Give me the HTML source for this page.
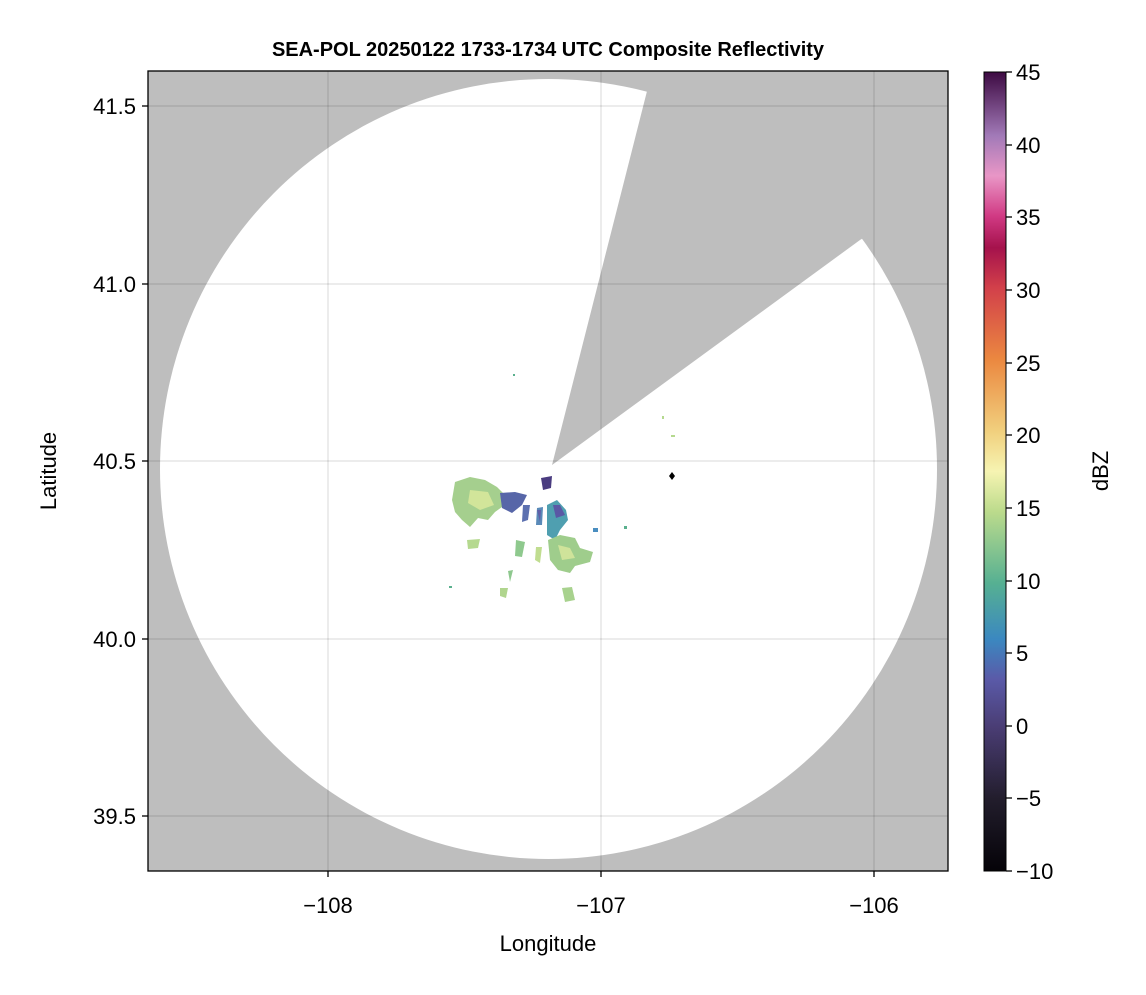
<!DOCTYPE html>
<html><head><meta charset="utf-8"><style>
body{margin:0;background:#fff}
svg text{font-family:"Liberation Sans",sans-serif}
</style></head><body>
<svg width="1146" height="990" viewBox="0 0 1146 990">
<defs>
<clipPath id="pc"><rect x="148" y="71" width="800" height="800"/></clipPath>
<linearGradient id="cb" x1="0" y1="1" x2="0" y2="0">
<stop offset="0" stop-color="#050308"/>
<stop offset="0.09" stop-color="#221d2c"/>
<stop offset="0.18" stop-color="#4a3d74"/>
<stop offset="0.24" stop-color="#5a5aa8"/>
<stop offset="0.29" stop-color="#3b88c0"/>
<stop offset="0.36" stop-color="#56b092"/>
<stop offset="0.45" stop-color="#bcdb8c"/>
<stop offset="0.5" stop-color="#f6f4b2"/>
<stop offset="0.55" stop-color="#f1d07e"/>
<stop offset="0.64" stop-color="#eb8840"/>
<stop offset="0.73" stop-color="#d2404a"/>
<stop offset="0.78" stop-color="#a5124c"/>
<stop offset="0.82" stop-color="#d13a84"/>
<stop offset="0.87" stop-color="#e996c6"/>
<stop offset="0.92" stop-color="#a27ab8"/>
<stop offset="1" stop-color="#3d0a42"/>
</linearGradient>
</defs>
<text x="548" y="56" text-anchor="middle" font-size="20" font-weight="bold">SEA-POL 20250122 1733-1734 UTC Composite Reflectivity</text>
<g clip-path="url(#pc)">
<rect x="148" y="71" width="800" height="800" fill="#bebebe"/>
<ellipse cx="548.5" cy="469" rx="388.5" ry="390" fill="#fff"/>
<polygon points="552,465 660,40 1000,40 1000,150 860,240" fill="#bebebe"/>
<g stroke="#000" stroke-opacity="0.1" stroke-width="1.5">
<line x1="328" y1="71" x2="328" y2="871"/><line x1="601" y1="71" x2="601" y2="871"/><line x1="874" y1="71" x2="874" y2="871"/>
<line x1="148" y1="106" x2="948" y2="106"/><line x1="148" y1="284" x2="948" y2="284"/><line x1="148" y1="461" x2="948" y2="461"/><line x1="148" y1="639" x2="948" y2="639"/><line x1="148" y1="816" x2="948" y2="816"/>
</g>
<path d="M455,482 L470,477 L485,480 L497,487 L505,495 L502,507 L495,512 L488,520 L478,518 L470,527 L462,520 L455,512 L452,500 Z" fill="#a5cf8e"/>
<path d="M470,490 L488,492 L494,505 L480,510 L468,503 Z" fill="#d2e59a"/>
<path d="M500,493 L515,492 L527,495 L522,505 L512,513 L502,508 Z" fill="#5766a8"/>
<path d="M541,478 L552,476 L551,488 L543,490 Z" fill="#4a3c80"/>
<path d="M547,505 L557,500 L566,510 L568,520 L560,530 L555,540 L547,535 Z" fill="#4f9fb0"/>
<path d="M553,505 L560,505 L565,515 L556,518 Z" fill="#5a58a5"/>
<path d="M548,540 L560,535 L575,538 L580,548 L593,552 L590,562 L575,566 L570,573 L558,570 L550,560 Z" fill="#9fcd8c"/>
<path d="M558,545 L570,548 L575,558 L562,560 Z" fill="#cfe39a"/>
<path d="M523,505 L530,505 L528,520 L522,522 Z" fill="#5c70b0"/>
<path d="M537,508 L543,507 L542,525 L536,525 Z" fill="#5a8ab8"/>
<path d="M537,510 L541,510 L540,522 Z" fill="#6060a8"/>
<path d="M467,540 L480,539 L478,548 L468,549 Z" fill="#b5d98f"/>
<path d="M516,540 L525,542 L522,557 L515,556 Z" fill="#8fc98e"/>
<path d="M536,547 L542,547 L540,563 L535,560 Z" fill="#c0dd90"/>
<path d="M500,588 L508,588 L506,598 L500,596 Z" fill="#b0d58e"/>
<path d="M562,588 L572,587 L575,600 L565,602 Z" fill="#a8d28e"/>
<path d="M508,571 L513,570 L510,582 Z" fill="#8ec88e"/>
<rect x="593" y="528" width="5" height="4" fill="#4a8ec0"/>
<rect x="662" y="416" width="2" height="3" fill="#b5d98f"/>
<rect x="671" y="435" width="4" height="2" fill="#b5d98f"/>
<rect x="513" y="374" width="2" height="2" fill="#5ab08e"/>
<rect x="624" y="526" width="3" height="3" fill="#5ab08e"/>
<rect x="449" y="586" width="3" height="2" fill="#5ab08e"/>
<polygon points="672,472 675,476 672,480 669,476" fill="#000"/>
</g>
<rect x="148" y="71" width="800" height="800" fill="none" stroke="#000" stroke-width="1.3"/>
<g stroke="#000" stroke-width="1.3">
<line x1="328" y1="871" x2="328" y2="877"/><line x1="601" y1="871" x2="601" y2="877"/><line x1="874" y1="871" x2="874" y2="877"/>
<line x1="142" y1="106" x2="148" y2="106"/><line x1="142" y1="284" x2="148" y2="284"/><line x1="142" y1="461" x2="148" y2="461"/><line x1="142" y1="639" x2="148" y2="639"/><line x1="142" y1="816" x2="148" y2="816"/>
</g>
<g font-size="22" text-anchor="middle">
<text x="328" y="913">−108</text><text x="601" y="913">−107</text><text x="874" y="913">−106</text>
<text x="548" y="951">Longitude</text>
</g>
<g font-size="22" text-anchor="end">
<text x="136" y="114">41.5</text><text x="136" y="292">41.0</text><text x="136" y="469">40.5</text><text x="136" y="647">40.0</text><text x="136" y="824">39.5</text>
</g>
<text transform="translate(56,471) rotate(-90)" font-size="22" text-anchor="middle">Latitude</text>
<rect x="984" y="72" width="22" height="799" fill="url(#cb)" stroke="#000" stroke-width="1"/>
<g stroke="#000" stroke-width="1.3">
<line x1="1006" y1="72" x2="1012" y2="72"/><line x1="1006" y1="145" x2="1012" y2="145"/><line x1="1006" y1="217" x2="1012" y2="217"/><line x1="1006" y1="290" x2="1012" y2="290"/><line x1="1006" y1="363" x2="1012" y2="363"/><line x1="1006" y1="435" x2="1012" y2="435"/><line x1="1006" y1="508" x2="1012" y2="508"/><line x1="1006" y1="581" x2="1012" y2="581"/><line x1="1006" y1="653" x2="1012" y2="653"/><line x1="1006" y1="726" x2="1012" y2="726"/><line x1="1006" y1="798" x2="1012" y2="798"/><line x1="1006" y1="871" x2="1012" y2="871"/>
</g>
<g font-size="22">
<text x="1016" y="80">45</text><text x="1016" y="153">40</text><text x="1016" y="225">35</text><text x="1016" y="298">30</text><text x="1016" y="371">25</text><text x="1016" y="443">20</text><text x="1016" y="516">15</text><text x="1016" y="589">10</text><text x="1016" y="661">5</text><text x="1016" y="734">0</text><text x="1016" y="806">−5</text><text x="1016" y="879">−10</text>
</g>
<text transform="translate(1108,471) rotate(-90)" font-size="22" text-anchor="middle">dBZ</text>
</svg>
</body></html>
